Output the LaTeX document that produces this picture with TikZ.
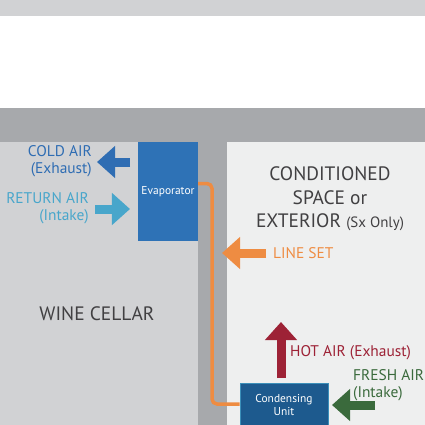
\documentclass[tikz,border=0pt]{standalone}
\usepackage{fontspec}
\setmainfont{PT Sans}
\usetikzlibrary{positioning,arrows.meta}

\definecolor{lightwall}{HTML}{D1D2D4}
\definecolor{darkwall}{HTML}{A7A9AC}
\definecolor{outside}{HTML}{EEEFEF}
\definecolor{evapblue}{HTML}{2E72B6}
\definecolor{condblue}{HTML}{1D5A8E}
\definecolor{coldair}{HTML}{2F6DB3}
\definecolor{returnair}{HTML}{48A6CB}
\definecolor{linesetorange}{HTML}{EE8C42}
\definecolor{hotair}{HTML}{9D2236}
\definecolor{freshair}{HTML}{3A6A3C}
\definecolor{roomtext}{HTML}{414042}

\tikzset{
  unit/.style={fill=#1, text=white, align=center, inner sep=0pt,
    font=\fontsize{11.5}{12.5}\selectfont},
  airflow/.style={draw=#1, line width=9bp,
    -{Triangle[length=18bp,width=31bp]}},
  airlabel/.style={text=#1, inner sep=0pt,
    font=\fontsize{15.5}{17}\selectfont},
  roomlabel/.style={text=roomtext, inner sep=0pt, align=center,
    font=\fontsize{19.5}{23.5}\selectfont},
  pipe/.style={draw=linesetorange, line width=3.5bp, rounded corners=5bp}
}

\begin{document}
\begin{tikzpicture}[x=1bp,y=-1bp]
\useasboundingbox (0,0) rectangle (425,425);
% rooms and walls
\fill[white] (0,0) rectangle (425,425);
\fill[lightwall] (0,0) rectangle (425,16);
\fill[darkwall] (0,108) rectangle (425,142);
\fill[lightwall] (0,142) rectangle (198,425);
\fill[darkwall] (198,142) rectangle (227,425);
\fill[outside] (227,142) rectangle (425,425);

% units
\node[unit=evapblue, minimum width=60bp, minimum height=99bp] (evap) at (168,191.5) {Evaporator};
\node[unit=condblue, draw=returnair!70!condblue, line width=0.8bp,
  minimum width=88bp, minimum height=43bp] (cond) at (284,405) {Condensing\\Unit};

% line set
\coordinate (chase) at (212,300);
\draw[pipe] ([yshift=8bp]evap.east) -| (chase) |- ([yshift=1bp]cond.west);

% room labels
\node[roomlabel] (cellar) at (97,314) {WINE CELLAR};
\node[roomlabel] (space) at (330,199) {CONDITIONED\\SPACE or\\EXTERIOR {\fontsize{15}{15}\selectfont(Sx Only)}};

% air flow
\coordinate (coldTail) at (130,162);
\coordinate (coldTip) at (97,162);
\draw[airflow=coldair] (coldTail) -- (coldTip);
\node[airlabel=coldair, anchor=east, align=right] (coldLbl) at (92,161.5) {COLD AIR\\(Exhaust)};

\coordinate (returnTail) at (95,209);
\coordinate (returnTip) at (130,209);
\draw[airflow=returnair] (returnTail) -- (returnTip);
\node[airlabel=returnair, anchor=east, align=right] (returnLbl) at (89,208.5) {RETURN AIR\\(Intake)};

\coordinate (setTail) at (266,253);
\coordinate (setTip) at (222,253);
\draw[airflow=linesetorange] (setTail) -- (setTip);
\node[airlabel=linesetorange, anchor=west] (setLbl) at (273,253.5) {LINE SET};

\coordinate (hotTail) at (281,378);
\coordinate (hotTip) at (281,322);
\draw[airflow=hotair] (hotTail) -- (hotTip);
\node[airlabel=hotair, anchor=west] (hotLbl) at (290,352.5) {HOT AIR (Exhaust)};

\coordinate (freshTail) at (375,405);
\coordinate (freshTip) at (332,405);
\draw[airflow=freshair] (freshTail) -- (freshTip);
\node[airlabel=freshair, anchor=west, align=left] (freshLbl) at (353,385) {FRESH AIR\\(Intake)};
\end{tikzpicture}
\end{document}
